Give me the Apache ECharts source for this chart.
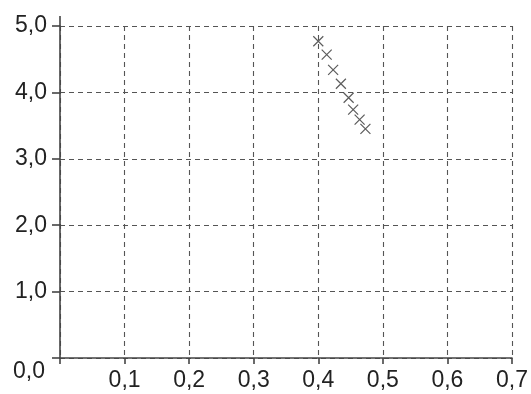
<!DOCTYPE html>
<html>
<head>
<meta charset="utf-8">
<script src="https://cdn.jsdelivr.net/npm/echarts@6/dist/echarts.min.js"></script>
<style>html,body{margin:0;padding:0;background:#fff;}#c{width:531px;height:394px;}</style>
</head>
<body>
<div id="c"></div>
<script>
var xValues = [0.400, 0.413, 0.423, 0.435, 0.447, 0.454, 0.464, 0.473];
var yValues = [4.77, 4.57, 4.34, 4.13, 3.92, 3.74, 3.59, 3.45];
var xTicks = [0, 0.1, 0.2, 0.3, 0.4, 0.5, 0.6, 0.7];
var yTicks = [0, 1, 2, 3, 4, 5];

var points = xValues.map(function (x, i) { return [x, yValues[i]]; });
function fmt(v) { return v.toFixed(1).replace('.', ','); }

var chart = echarts.init(document.getElementById('c'), null, {renderer: 'canvas'});
var font = 'Liberation Sans, Arial, sans-serif';
var fs = 23;
chart.setOption({
  animation: false,
  backgroundColor: '#fff',
  grid: {left: 60, top: 26, right: 19, bottom: 36, containLabel: false},
  xAxis: {
    type: 'value', min: xTicks[0], max: xTicks[xTicks.length - 1], interval: 0.1,
    axisLine: {show: true, lineStyle: {color: '#444', width: 1.6}},
    axisTick: {show: true, length: 6, lineStyle: {color: '#444', width: 1.6}},
    axisLabel: {
      margin: 11, color: '#222', fontSize: fs, fontFamily: font,
      formatter: function (v) { return Math.abs(v) < 1e-9 ? '' : fmt(v); }
    },
    splitLine: {show: true, lineStyle: {color: '#555', width: 1.1, type: [5, 4]}}
  },
  yAxis: {
    type: 'value', min: yTicks[0], max: yTicks[yTicks.length - 1], interval: 1,
    axisLine: {show: true, lineStyle: {color: '#444', width: 1.6}},
    axisTick: {show: true, length: 8, lineStyle: {color: '#444', width: 1.6}},
    axisLabel: {
      margin: 13, color: '#222', fontSize: fs, fontFamily: font,
      formatter: function (v) { return Math.abs(v) < 1e-9 ? '{z|' + fmt(v) + '}' : fmt(v); },
      rich: {z: {fontSize: fs, fontFamily: font, color: '#222', padding: [28, 2, 0, 0]}}
    },
    splitLine: {show: true, lineStyle: {color: '#555', width: 1.1, type: [5, 4]}}
  },
  series: [{
    type: 'scatter',
    data: points,
    symbol: 'path://M0,0L10,10M10,0L0,10',
    symbolSize: 10,
    itemStyle: {color: 'none', borderColor: '#333', borderWidth: 1.2}
  }]
});

var top5 = chart.convertToPixel({gridIndex: 0}, [0, yTicks[yTicks.length - 1]]);
chart.setOption({
  graphic: [
    {type: 'line', shape: {x1: top5[0], y1: top5[1], x2: top5[0], y2: top5[1] - 10},
     style: {stroke: '#444', lineWidth: 1.6}, z: 10},
    {type: 'text', left: 16, top: -24,
     style: {text: '(        ,        )', fontSize: fs, fontFamily: font, fill: '#333'}}
  ]
});
</script>
</body>
</html>
